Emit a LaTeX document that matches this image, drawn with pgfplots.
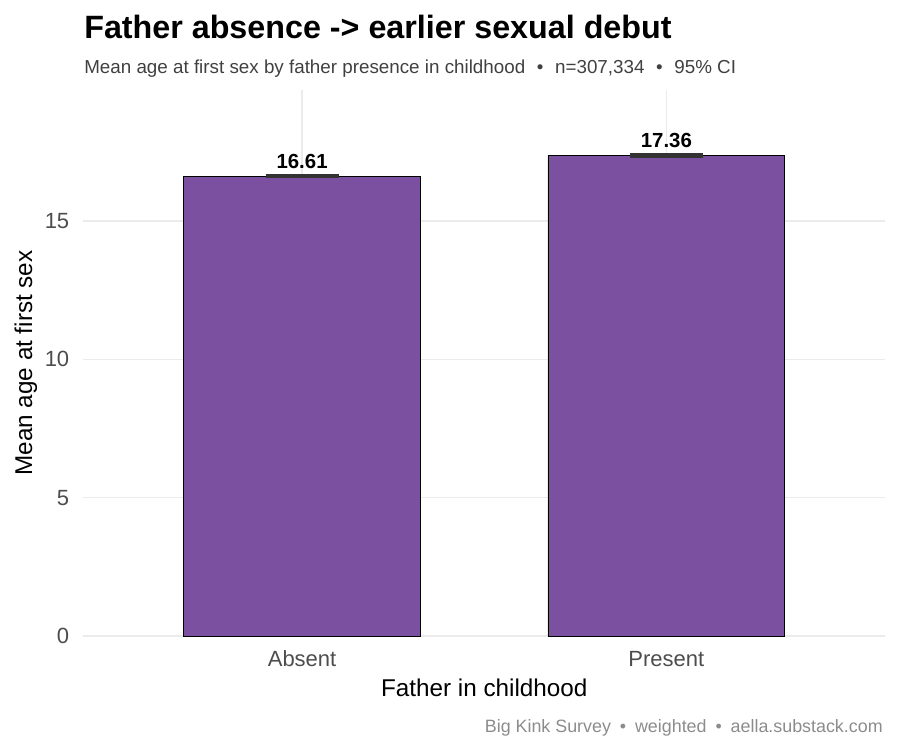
\documentclass[border=0pt]{standalone}
\usepackage{fontspec}
\setmainfont{Liberation Sans}
\usepackage{pgfplots}
\pgfplotsset{compat=1.18}

\definecolor{barpurple}{RGB}{123,80,161}
\definecolor{gridgrey}{RGB}{235,235,235}
\definecolor{ticktext}{RGB}{77,77,77}
\definecolor{subtext}{RGB}{64,64,64}
\definecolor{captext}{RGB}{140,140,140}
\definecolor{errgrey}{RGB}{51,51,51}

\newcommand{\sep}{\hspace{0.62em}•\hspace{0.62em}}
\newcommand{\capsep}{\hspace{0.5em}•\hspace{0.5em}}

\begin{document}
\begin{tikzpicture}
% page frame: 900 x 750 px at 0.75pt per px, axis box corner at the origin
\path[use as bounding box] (-62.625pt,-85.5pt) rectangle (612.375pt,477pt);

\begin{axis}[
  scale only axis,
  width=601.1pt, height=409.5pt,
  at={(0,0)}, anchor=south west,
  xmin=-0.6, xmax=1.6,
  ymin=0, ymax=19.73,
  enlargelimits=false,
  clip=false,
  axis line style={draw=none},
  major tick length=0pt,
  xtick={0,1},
  xticklabels={Absent,Present},
  ytick={0,5,10,15},
  xmajorgrids, ymajorgrids,
  major grid style={draw=gridgrey, line width=1pt},
  /pgf/number format/assume math mode=true,
  tick label style={font=\fontsize{16.5}{19}\selectfont, text=ticktext},
  x tick label style={anchor=base, inner sep=0pt, yshift=-23.25pt},
  y tick label style={anchor=east, inner sep=0pt, xshift=-10.5pt},
  xlabel={Father in childhood},
  ylabel={Mean age at first sex},
  label style={font=\fontsize{18.2}{21}\selectfont, text=black, inner sep=0pt},
  xlabel style={at={(axis description cs:0.5,-0.1117)}, anchor=base},
  ylabel style={at={(axis description cs:-0.06425,0.5)}, anchor=base},
]
\addplot[
  ybar, bar width=0.65,
  fill=barpurple, draw=black, line width=0.5pt,
  error bars/.cd, y dir=both, y explicit,
  error bar style={line width=1.2pt, draw=errgrey},
  error mark options={rotate=90, mark size=27.4pt, line width=2.4pt, draw=errgrey},
] coordinates {
  (0,16.61) +- (0,0.02)
  (1,17.36) +- (0,0.02)
};
% value labels above each bar
\addplot[
  only marks, mark=none,
  nodes near coords={\pgfmathprintnumber[fixed,fixed zerofill,precision=2]{\pgfplotspointmeta}},
  nodes near coords style={anchor=base, yshift=6pt, inner sep=0pt,
    font=\bfseries\fontsize{15.3}{18}\selectfont, text=black},
] coordinates {
  (0,16.61)
  (1,17.36)
};
\end{axis}

\node[anchor=base west, inner sep=0pt, font=\bfseries\fontsize{24.2}{28}\selectfont]
  at (0.4pt,447.75pt) {Father absence -> earlier sexual debut};
\node[anchor=base west, inner sep=0pt, font=\fontsize{14.1}{16}\selectfont, text=subtext]
  at (0.4pt,421.5pt) {Mean age at first sex by father presence in childhood\sep n=307,334\sep 95\% CI};
\node[anchor=base east, inner sep=0pt, font=\fontsize{13.4}{16}\selectfont, text=captext]
  at (599.6pt,-72pt) {Big Kink Survey\capsep weighted\capsep aella.substack.com};
\end{tikzpicture}
\end{document}
